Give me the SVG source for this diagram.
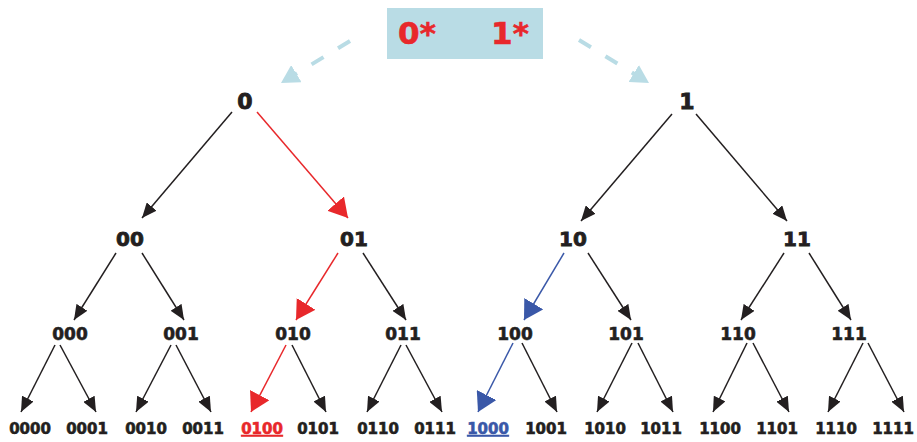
<svg xmlns="http://www.w3.org/2000/svg" width="917" height="442" viewBox="0 0 917 442">
<style>
.t{font-family:"DejaVu Sans","Liberation Sans",sans-serif;font-weight:bold;text-anchor:middle;fill:#231f20;stroke:#231f20;stroke-width:0.6}
.l0{font-size:22px;stroke-width:0.9}.l1{font-size:20px;stroke-width:0.8}.l2{font-size:17px}.l3{font-size:15px}
.red{fill:#e8282b;stroke:#e8282b}
.blue{fill:#3a58a8;stroke:#3a58a8}
.e{stroke:#231f20;stroke-width:1.5;fill:none}
.er{stroke:#e8282b;stroke-width:1.5;fill:none}
.eb{stroke:#3a58a8;stroke-width:1.5;fill:none}
.ed{stroke:#b9dce5;stroke-width:4;fill:none;stroke-dasharray:14 17}
</style>
<defs>
<marker id="ak" markerUnits="userSpaceOnUse" markerWidth="15" markerHeight="13" refX="15" refY="6.5" orient="auto"><path d="M0,0 L15,6.5 L0,13 z" fill="#231f20"/></marker>
<marker id="ar" markerUnits="userSpaceOnUse" markerWidth="19" markerHeight="22" refX="19" refY="11" orient="auto"><path d="M0,0 L19,11 L0,22 z" fill="#e8282b"/></marker>
<marker id="ab" markerUnits="userSpaceOnUse" markerWidth="19" markerHeight="22" refX="19" refY="11" orient="auto"><path d="M0,0 L19,11 L0,22 z" fill="#3a58a8"/></marker>
<marker id="ad" markerUnits="userSpaceOnUse" markerWidth="18" markerHeight="20" refX="18" refY="10" orient="auto"><path d="M0,0 L18,10 L0,20 z" fill="#b9dce5"/></marker>
</defs>
<g id="start">
<rect x="387" y="8" width="156" height="51" fill="#b9dce5"/>
<text class="t red" x="417" y="44" font-size="31">0*</text>
<text class="t red" x="510" y="44" font-size="31">1*</text>
</g>
<g id="connectors">
<path class="ed" d="M350,41 L281,83" marker-end="url(#ad)"/>
<path class="ed" d="M579,40 L649,83" marker-end="url(#ad)"/>
<path class="e" d="M232,112 L142,218" marker-end="url(#ak)"/>
<path class="er" d="M257,112 L348,218" marker-end="url(#ar)"/>
<path class="e" d="M672,114 L581,221" marker-end="url(#ak)"/>
<path class="e" d="M696,114 L787,221" marker-end="url(#ak)"/>
<path class="e" d="M116,253 L74,320" marker-end="url(#ak)"/>
<path class="e" d="M142,253 L184,320" marker-end="url(#ak)"/>
<path class="er" d="M338,253 L296,320" marker-end="url(#ar)"/>
<path class="e" d="M363,253 L406,320" marker-end="url(#ak)"/>
<path class="eb" d="M564,253 L524,320" marker-end="url(#ab)"/>
<path class="e" d="M588,253 L631,320" marker-end="url(#ak)"/>
<path class="e" d="M784,253 L741,320" marker-end="url(#ak)"/>
<path class="e" d="M809,253 L851,320" marker-end="url(#ak)"/>
<path class="e" d="M55,345 L21,412" marker-end="url(#ak)"/>
<path class="e" d="M60,345 L96,412" marker-end="url(#ak)"/>
<path class="e" d="M171,345 L136,412" marker-end="url(#ak)"/>
<path class="e" d="M176,345 L211,412" marker-end="url(#ak)"/>
<path class="er" d="M286,345 L251,412" marker-end="url(#ar)"/>
<path class="e" d="M292,345 L326,412" marker-end="url(#ak)"/>
<path class="e" d="M401,345 L367,412" marker-end="url(#ak)"/>
<path class="e" d="M406,345 L442,412" marker-end="url(#ak)"/>
<path class="eb" d="M513,343 L478,412" marker-end="url(#ab)"/>
<path class="e" d="M522,343 L557,412" marker-end="url(#ak)"/>
<path class="e" d="M632,343 L597,412" marker-end="url(#ak)"/>
<path class="e" d="M638,343 L673,412" marker-end="url(#ak)"/>
<path class="e" d="M747,343 L713,412" marker-end="url(#ak)"/>
<path class="e" d="M753,343 L789,412" marker-end="url(#ak)"/>
<path class="e" d="M863,343 L828,412" marker-end="url(#ak)"/>
<path class="e" d="M868,343 L904,412" marker-end="url(#ak)"/>
</g>
<g id="n0"><text class="t l0" x="245" y="109">0</text></g>
<g id="n1"><text class="t l0" x="687" y="109">1</text></g>
<g id="n00"><text class="t l1" x="130" y="246">00</text></g>
<g id="n01"><text class="t l1" x="354" y="246">01</text></g>
<g id="n10"><text class="t l1" x="573" y="246">10</text></g>
<g id="n11"><text class="t l1" x="797" y="246">11</text></g>
<g id="n000"><text class="t l2" x="70" y="340">000</text></g>
<g id="n001"><text class="t l2" x="181" y="340">001</text></g>
<g id="n010"><text class="t l2" x="293" y="340">010</text></g>
<g id="n011"><text class="t l2" x="403" y="340">011</text></g>
<g id="n100"><text class="t l2" x="515" y="340">100</text></g>
<g id="n101"><text class="t l2" x="626" y="340">101</text></g>
<g id="n110"><text class="t l2" x="738" y="340">110</text></g>
<g id="n111"><text class="t l2" x="849" y="340">111</text></g>
<g id="n0000"><text class="t l3" x="30" y="434">0000</text></g>
<g id="n0001"><text class="t l3" x="87" y="434">0001</text></g>
<g id="n0010"><text class="t l3" x="146" y="434">0010</text></g>
<g id="n0011"><text class="t l3" x="203" y="434">0011</text></g>
<g id="n0100"><text class="t l3 red" x="262" y="434" text-decoration="underline">0100</text></g>
<g id="n0101"><text class="t l3" x="318" y="434">0101</text></g>
<g id="n0110"><text class="t l3" x="378" y="434">0110</text></g>
<g id="n0111"><text class="t l3" x="435" y="434">0111</text></g>
<g id="n1000"><text class="t l3 blue" x="488" y="434" text-decoration="underline">1000</text></g>
<g id="n1001"><text class="t l3" x="546" y="434">1001</text></g>
<g id="n1010"><text class="t l3" x="605" y="434">1010</text></g>
<g id="n1011"><text class="t l3" x="661" y="434">1011</text></g>
<g id="n1100"><text class="t l3" x="720" y="434">1100</text></g>
<g id="n1101"><text class="t l3" x="777" y="434">1101</text></g>
<g id="n1110"><text class="t l3" x="836" y="434">1110</text></g>
<g id="n1111"><text class="t l3" x="893" y="434">1111</text></g>
</svg>
